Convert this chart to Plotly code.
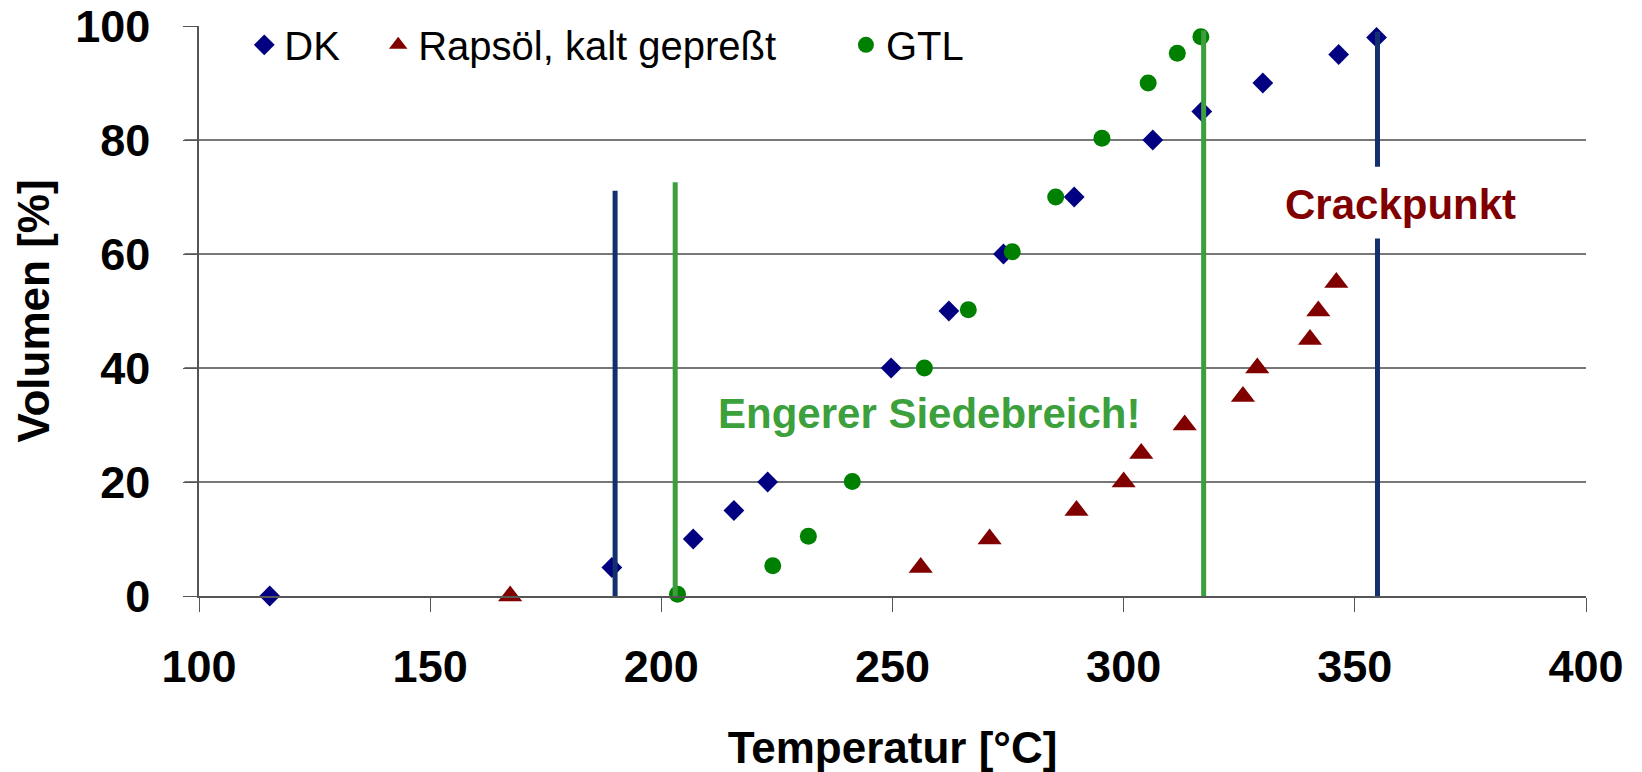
import plotly.graph_objects as go

# ---- data ----
dk_temp = [115.3, 189.3, 206.9, 215.7, 223.0, 249.7, 262.2, 274.0, 289.3, 306.3, 316.9, 330.1, 346.5, 354.7]
dk_vol = [0, 5, 10, 15, 20, 40, 50, 60, 70, 80, 85, 90, 95, 98]

raps_temp = [167.3, 256.1, 271.0, 289.8, 300.0, 303.8, 313.2, 325.8, 328.9, 340.3, 342.1, 346.0]
raps_vol = [0, 5, 10, 15, 20, 25, 30, 35, 40, 45, 50, 55]

gtl_temp = [203.5, 224.1, 231.8, 241.3, 256.9, 266.4, 275.9, 285.3, 295.3, 305.3, 311.6, 316.7]
gtl_vol = [0.3, 5.3, 10.5, 20.1, 40, 50.2, 60.4, 70, 80.3, 90, 95.2, 98.1]

# vertical marker lines: temperature, volume segments, colour key
line_temps = [190.0, 203.0, 317.3, 354.9]
line_segments = [[(0, 71.1)], [(0, 72.6)], [(0, 99.2)], [(0, 62.7), (75.3, 99.0)]]
line_colors = ["dk", "gtl", "gtl", "dk"]

x_ticks = [100, 150, 200, 250, 300, 350, 400]
y_ticks = [0, 20, 40, 60, 80, 100]
grid_vals = [20, 40, 60, 80]

names = ["DK", "Rapsöl, kalt gepreßt", "GTL"]
annot_siede = ("Engerer Siedebreich!", 257.9, 32.1)
annot_crack = ("Crackpunkt", 359.9, 68.6)

# ---- styles ----
FONT = "Arial, Liberation Sans, sans-serif"
C_DK = "#000080"
C_RAPS = "#800000"
C_GTL = "#008000"
LINE_C = {"dk": "#12306E", "gtl": "#3C9E3C"}

fig = go.Figure()

fig.add_trace(go.Scatter(x=dk_temp, y=dk_vol, mode="markers", name=names[0],
                         marker=dict(symbol="diamond", size=16, color=C_DK),
                         cliponaxis=False, legend="legend"))
fig.add_trace(go.Scatter(x=raps_temp, y=raps_vol, mode="markers", name=names[1],
                         marker=dict(symbol="triangle-up", size=21, color=C_RAPS),
                         cliponaxis=False, legend="legend2"))
fig.add_trace(go.Scatter(x=gtl_temp, y=gtl_vol, mode="markers", name=names[2],
                         marker=dict(symbol="circle", size=17, color=C_GTL),
                         cliponaxis=False, legend="legend3"))

for t, segs, ck in zip(line_temps, line_segments, line_colors):
    for (y0, y1) in segs:
        fig.add_trace(go.Scatter(x=[t, t], y=[y0, y1], mode="lines",
                                 line=dict(color=LINE_C[ck], width=5),
                                 showlegend=False, hoverinfo="skip", cliponaxis=False))

shapes = []
for g in grid_vals:
    shapes.append(dict(type="line", xref="paper", yref="y", x0=-0.0105, x1=1, y0=g, y1=g,
                       line=dict(color="#4a4a4a", width=1.3), layer="below"))

fig.add_annotation(text=annot_siede[0], x=annot_siede[1], y=annot_siede[2], xref="x", yref="y",
                   showarrow=False, font=dict(family=FONT, size=42, color="#3CA03C", weight="bold"))
fig.add_annotation(text=annot_crack[0], x=annot_crack[1], y=annot_crack[2], xref="x", yref="y",
                   showarrow=False, font=dict(family=FONT, size=42, color="#800000", weight="bold"))

W, H = 1642, 772
L, R, T, B = 198.7, 55.5, 26, 176.2
pw = W - L - R

def lx(px):
    return (px - L) / pw

legend_common = dict(xanchor="left", yanchor="middle", y=0.967, bgcolor="rgba(0,0,0,0)",
                     borderwidth=0, font=dict(family=FONT, size=40, color="black"))

fig.update_layout(
    width=W, height=H,
    margin=dict(l=L, r=R, t=T, b=B, pad=0),
    paper_bgcolor="white", plot_bgcolor="white",
    font=dict(family=FONT, color="black"),
    shapes=shapes,
    legend=dict(x=lx(244), **legend_common),
    legend2=dict(x=lx(378), **legend_common),
    legend3=dict(x=lx(846), **legend_common),
    xaxis=dict(range=[100, 400], tickvals=x_ticks, ticktext=[str(v) for v in x_ticks],
               showgrid=False, zeroline=False, showline=True, linecolor="#555555", linewidth=1.5,
               ticks="outside", ticklen=14, tickcolor="#555555", tickwidth=1.3,
               tickfont=dict(family=FONT, size=45, color="black", weight="bold"),
               ticklabelstandoff=16,
               title=dict(text="Temperatur [°C]", standoff=50,
                          font=dict(family=FONT, size=44, color="black", weight="bold")),
               automargin=False),
    yaxis=dict(range=[0, 100], tickvals=y_ticks, ticktext=[str(v) for v in y_ticks],
               showgrid=False, zeroline=False, showline=True, linecolor="#555555", linewidth=1.5,
               ticks="outside", ticklen=14, tickcolor="#555555", tickwidth=1.3,
               tickfont=dict(family=FONT, size=45, color="black", weight="bold"),
               ticklabelstandoff=24,
               title=dict(text="Volumen [%]", standoff=12,
                          font=dict(family=FONT, size=44, color="black", weight="bold")),
               automargin=False),
)

fig.write_html("out.html", config={"displayModeBar": False},
               post_script="document.body.style.margin='0';document.body.style.overflow='hidden';")
